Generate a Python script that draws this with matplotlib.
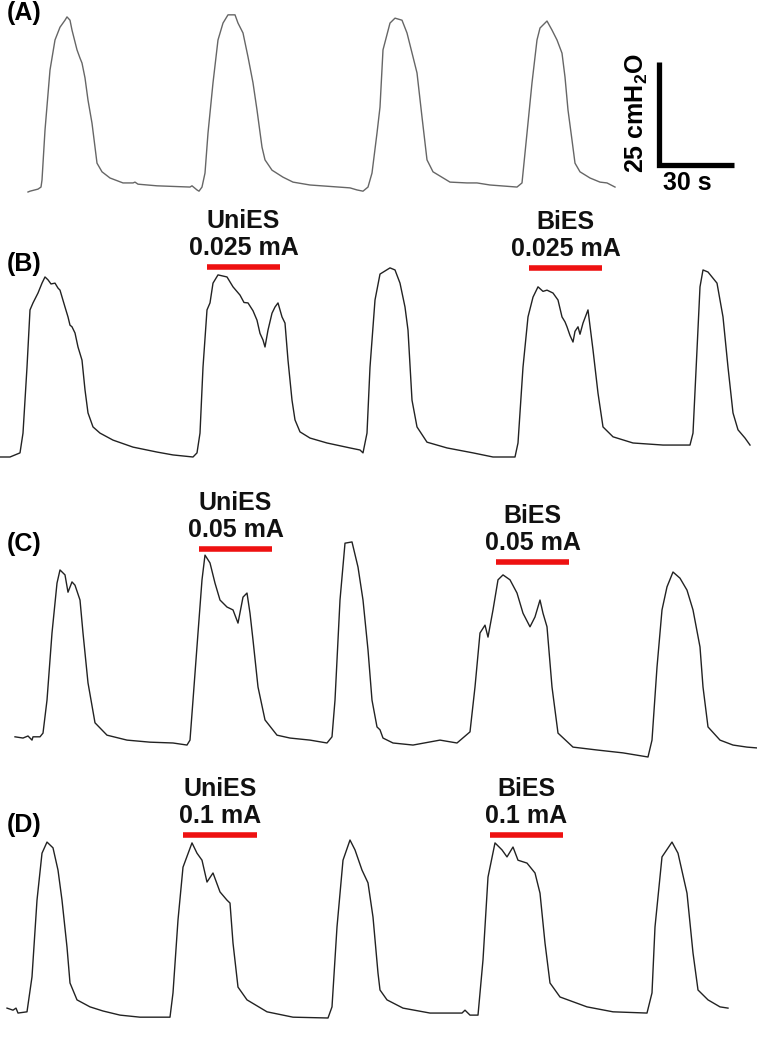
import matplotlib
matplotlib.use('Agg')
from matplotlib import pyplot as plt

### Datos (tiempo en s, presion en cmH2O sobre la linea base de cada registro)

a_t = [11.2, 12.0, 15.2, 16.4, 16.8, 18.0, 20.0, 22.0, 24.0, 26.0, 26.8, 28.0, 28.8, 30.8, 32.0, 32.8,
       34.0, 35.2, 36.8, 38.0, 38.8, 40.8, 44.0, 49.2, 53.2, 54.0, 55.2, 62.8, 76.0, 76.8, 78.8, 79.6,
       80.8, 82.0, 83.2, 85.2, 87.2, 89.2, 91.2, 94.0, 95.2, 97.2, 99.2, 101.2, 102.8, 104.8, 106.0,
       108.8, 113.2, 117.2, 124.0, 140.0, 142.8, 145.2, 147.2, 148.8, 150.8, 152.0, 153.2, 156.0, 158.0,
       160.8, 162.8, 165.2, 166.8, 168.8, 170.8, 173.2, 180.0, 186.8, 190.8, 196.0, 206.8, 208.8, 210.8,
       212.8, 214.8, 216.0, 218.8, 220.8, 222.8, 224.8, 226.0, 227.2, 228.8, 230.0, 232.0, 236.0, 240.0,
       242.8, 246.0]
a_p = [0.0, 0.2, 0.7, 1.2, 2.9, 15.0, 29.6, 36.9, 40.0, 41.7, 42.5, 41.7, 39.3, 34.5, 32.5, 31.3,
       27.7, 22.3, 16.7, 10.9, 7.0, 4.9, 3.4, 2.2, 2.2, 2.4, 1.9, 1.5, 1.2, 1.5, 0.5, 0.2,
       1.2, 4.6, 14.3, 26.5, 36.9, 41.0, 43.0, 43.0, 41.0, 38.6, 32.8, 26.5, 19.9, 10.9, 7.8,
       5.3, 3.6, 2.4, 1.7, 1.0, 0.5, 0.2, 1.2, 4.6, 14.3, 20.6, 34.5, 41.0, 42.2,
       41.7, 38.6, 32.8, 28.9, 18.2, 7.8, 4.9, 2.4, 2.2, 2.2, 1.7, 1.2, 2.2, 14.3,
       26.5, 36.9, 39.8, 41.5, 39.3, 36.9, 33.7, 27.9, 19.9, 12.6, 7.0, 4.9, 3.4, 2.4,
       2.2, 1.2]

b_t = [0.0, 4.0, 8.0, 9.2, 10.8, 12.0, 13.2, 15.2, 16.8, 18.0, 19.2, 20.4, 22.0, 23.2, 24.0, 26.0,
       27.2, 28.0, 28.8, 30.0, 31.2, 32.8, 34.0, 35.2, 37.2, 40.0, 45.2, 53.2, 62.8, 69.2, 77.2,
       78.8, 80.0, 81.2, 82.8, 84.0, 85.2, 87.2, 90.8, 93.2, 96.0, 97.6, 99.2, 101.2, 102.8, 104.0,
       105.2, 106.0, 107.2, 108.8, 110.0, 111.2, 112.8, 114.0, 115.2, 116.8, 118.0, 120.0, 124.0,
       130.8, 140.0, 144.0, 145.2, 146.8, 148.0, 150.0, 152.0, 156.0, 158.0, 160.0, 162.0, 163.2,
       164.8, 166.8, 170.8, 178.8, 189.2, 197.2, 206.0, 207.2, 209.2, 211.2, 213.2, 215.2, 217.2,
       218.8, 221.2, 223.2, 224.8, 226.0, 226.8, 228.0, 229.2, 230.0, 231.2, 232.0, 233.2, 235.2,
       237.2, 239.2, 241.2, 245.2, 253.2, 265.2, 276.0, 277.2, 278.8, 280.0, 281.2, 283.2, 286.8,
       289.2, 291.2, 293.2, 295.2, 298.0, 300.0]
b_p = [0.0, 0.0, 1.0, 5.8, 21.8, 35.7, 37.4, 39.8, 42.2, 43.7, 43.0, 42.0, 42.2, 41.0, 40.5, 36.4,
       34.0, 32.0, 31.6, 30.1, 26.7, 23.5, 16.3, 10.7, 7.3, 5.8, 4.1, 2.4, 1.2, 0.5, 0.0,
       1.0, 5.8, 21.8, 35.7, 37.4, 42.2, 44.2, 43.7, 41.3, 39.3, 37.5, 37.4, 35.5, 33.2, 30.0,
       28.4, 26.7, 30.8, 34.9, 36.4, 37.4, 34.0, 32.5, 23.5, 13.8, 9.0, 6.1, 4.6,
       3.4, 2.2, 1.7, 1.0, 5.8, 21.8, 38.1, 44.4, 45.9, 45.4, 42.2, 36.4, 30.8,
       13.8, 7.3, 3.6, 2.2, 1.0, 0.0, 0.0, 3.4, 21.8, 34.0, 38.8, 41.3, 40.2,
       40.5, 39.8, 38.1, 34.0, 32.8, 31.6, 29.5, 27.9, 30.5, 31.6, 29.8, 32.5, 35.7,
       26.0, 15.5, 7.3, 4.9, 3.4, 2.9, 2.9, 5.8, 26.0, 41.3, 45.4, 44.9, 42.2,
       34.0, 21.8, 10.7, 6.6, 4.6, 2.9]

c_t = [6.0, 9.2, 11.2, 12.8, 13.2, 16.0, 17.2, 18.8, 20.8, 22.8, 24.0, 26.0, 27.2, 28.8, 30.0, 32.0,
       33.2, 35.2, 38.0, 42.8, 50.8, 60.0, 69.2, 74.8, 76.0, 77.2, 79.2, 80.8, 82.0, 84.0, 86.0,
       88.0, 90.8, 93.2, 95.2, 97.2, 98.8, 100.0, 101.2, 103.2, 106.0, 110.8, 116.0, 124.0, 130.8,
       132.8, 134.0, 136.0, 138.0, 140.8, 143.2, 145.2, 147.2, 148.8, 150.8, 152.0, 153.2, 157.2,
       165.2, 176.0, 182.8, 188.0, 190.0, 192.0, 194.0, 195.2, 197.2, 199.2, 201.2, 204.0, 206.8,
       209.2, 212.0, 214.0, 216.0, 217.2, 218.8, 220.8, 223.2, 229.2, 238.8, 249.2, 259.2, 260.8,
       262.8, 264.8, 266.8, 269.2, 272.0, 274.8, 277.2, 280.0, 281.2, 283.2, 288.0, 293.2, 298.8,
       302.8]
c_p = [4.9, 4.6, 5.1, 4.1, 4.9, 4.9, 5.8, 13.8, 30.1, 42.2, 45.4, 44.2, 40.0, 42.5, 41.7, 38.1,
       30.1, 18.0, 8.3, 5.3, 4.1, 3.6, 3.4, 2.9, 4.1, 13.8, 30.1, 43.0, 49.0, 47.1, 42.2,
       38.1, 36.4, 35.7, 32.5, 38.8, 39.8, 34.9, 28.4, 17.0, 9.0, 5.3, 4.6, 4.1, 3.4,
       4.9, 13.8, 38.1, 51.9, 52.2, 46.1, 38.1, 26.0, 13.8, 7.3, 6.6, 4.6, 3.4,
       2.9, 4.1, 3.4, 6.1, 17.0, 30.1, 32.0, 29.1, 35.7, 43.0, 44.2, 43.0, 39.8,
       34.9, 31.6, 34.0, 38.1, 34.9, 31.6, 17.0, 5.8, 2.4, 1.7, 1.0, 0.0, 4.1,
       21.8, 35.7, 41.3, 44.9, 43.4, 40.5, 35.7, 26.7, 17.0, 7.3, 4.1, 2.9, 2.4,
       2.2]

d_t = [2.8, 5.2, 6.4, 7.2, 10.8, 12.8, 14.8, 16.8, 18.8, 21.2, 23.2, 24.8, 26.8, 28.0, 30.8, 36.0,
       41.2, 48.0, 56.0, 68.0, 69.2, 71.2, 73.2, 76.8, 78.8, 80.8, 82.8, 85.2, 88.0, 90.8, 92.0,
       93.2, 95.2, 98.8, 106.8, 117.2, 131.2, 132.8, 134.8, 137.2, 140.0, 142.0, 144.8, 147.2, 149.2,
       151.2, 152.0, 154.8, 161.2, 172.0, 184.8, 186.0, 188.0, 191.2, 193.2, 195.2, 198.0, 200.8,
       202.8, 205.2, 207.2, 210.8, 214.0, 216.0, 218.0, 220.0, 224.0, 234.8, 245.2, 258.8, 260.8,
       262.0, 264.8, 268.8, 271.2, 274.8, 277.2, 279.2, 283.2, 288.0, 291.2]
d_p = [2.4, 1.9, 2.4, 1.2, 1.5, 10.0, 28.6, 40.0, 42.7, 41.3, 35.9, 28.6, 17.2, 8.5, 4.4, 2.7,
       1.7, 0.7, 0.2, 0.2, 6.1, 23.8, 36.6, 42.5, 40.0, 38.3, 33.0, 35.2, 30.6, 28.6, 27.9,
       18.2, 7.5, 4.4, 1.5, 0.2, 0.0, 2.7, 22.1, 38.3, 43.2, 40.8, 35.9, 32.8, 24.5,
       10.9, 6.8, 4.4, 2.4, 1.2, 1.2, 1.9, 0.7, 0.7, 14.1, 34.2, 42.5, 40.8,
       39.1, 41.5, 38.3, 37.6, 35.2, 30.3, 18.2, 8.5, 5.1, 2.7, 1.5, 1.2, 6.1,
       22.1, 39.1, 42.7, 40.0, 30.3, 15.8, 6.8, 4.4, 2.7, 2.4]

# estimulacion: inicio, fin, nivel de la barra, etiqueta
b_stim_ini = [82.8, 211.6]
b_stim_fin = [112.0, 240.8]
b_stim_y = [46.1, 45.9]
b_stim_lab = ['UniES\n0.025 mA', 'BiES\n0.025 mA']

c_stim_ini = [79.6, 198.4]
c_stim_fin = [108.8, 227.6]
c_stim_y = [50.5, 47.3]
c_stim_lab = ['UniES\n0.05 mA', 'BiES\n0.05 mA']

d_stim_ini = [73.2, 196.0]
d_stim_fin = [102.8, 225.2]
d_stim_y = [44.4, 44.4]
d_stim_lab = ['UniES\n0.1 mA', 'BiES\n0.1 mA']

### Figura

W, H = 757, 1050
PX_S = 2.5      # pixeles por segundo
PX_P = 4.12     # pixeles por cmH2O

plt.rcParams['font.family'] = ['Liberation Sans', 'DejaVu Sans']
plt.rcParams['mathtext.default'] = 'regular'

fig = plt.figure(figsize=(W / 100, H / 100), dpi=100)
fig.patch.set_facecolor('white')


# Un panel = un eje sin marcos
def panel(top, bot, base):
    ax = fig.add_axes([0, 1 - bot / H, 1, (bot - top) / H])
    ax.set_xlim(0, W / PX_S)
    ax.set_ylim(-(bot - base) / PX_P, (base - top) / PX_P)
    ax.axis('off')
    return ax


def estimulos(ax, ini, fin, niv, lab):
    for i in range(len(ini)):
        ax.plot([ini[i], fin[i]], [niv[i], niv[i]], color='#ee1111', lw=4, solid_capstyle='butt')
        ax.annotate(lab[i], xy=((ini[i] + fin[i]) / 2, niv[i]), xytext=(0, 5),
                    textcoords='offset points', ha='center', va='bottom',
                    fontsize=18, fontweight='bold', color='#111111', linespacing=1.15)


ax_a = panel(0, 200, 192)
ax_b = panel(200, 470, 457)
ax_c = panel(470, 760, 757)
ax_d = panel(760, 1050, 1018)

ax_a.plot(a_t, a_p, color='#666666', lw=1.0)
ax_b.plot(b_t, b_p, color='#222222', lw=1.0)
ax_c.plot(c_t, c_p, color='#222222', lw=1.0)
ax_d.plot(d_t, d_p, color='#222222', lw=1.0)

estimulos(ax_b, b_stim_ini, b_stim_fin, b_stim_y, b_stim_lab)
estimulos(ax_c, c_stim_ini, c_stim_fin, c_stim_y, c_stim_lab)
estimulos(ax_d, d_stim_ini, d_stim_fin, d_stim_y, d_stim_lab)

# Barra de escala: 30 s x 25 cmH2O
t0, p0 = 263.6, 6.6
ax_a.plot([t0, t0, t0 + 30], [p0 + 25, p0, p0], color='black', lw=3.8,
          solid_joinstyle='miter', solid_capstyle='butt')
ax_a.text(t0 - 3.5, p0 + 12.5, '25 cmH$_2$O', rotation=90, ha='right', va='center',
          fontsize=18, fontweight='bold')
ax_a.text(t0 + 11.5, p0 - 4.5, '30 s', ha='center', va='center', fontsize=18, fontweight='bold')

# Etiquetas de panel
for lab, y in [('(A)', 13), ('(B)', 264), ('(C)', 544), ('(D)', 825)]:
    fig.text(7 / W, 1 - y / H, lab, ha='left', va='center', fontsize=18, fontweight='bold')

fig.savefig('out.png', dpi=100, facecolor='white')
